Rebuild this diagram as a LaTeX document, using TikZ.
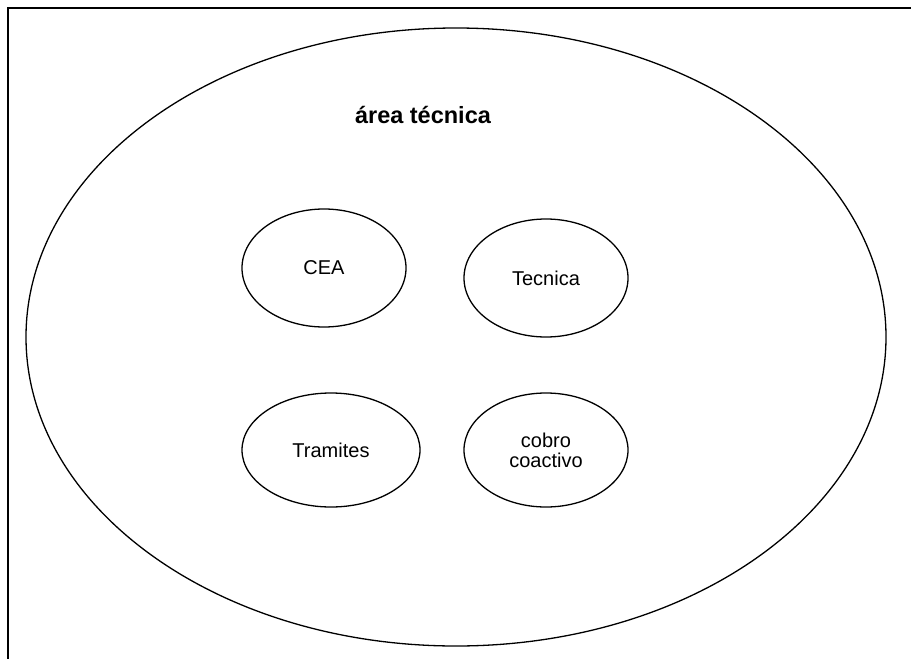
\documentclass[tikz,border=0pt]{standalone}
\usepackage{fontspec}
\setmainfont{Liberation Sans}
\usetikzlibrary{shapes.geometric}
\begin{document}
\begin{tikzpicture}[x=1pt,y=-1pt,
    unit/.style={draw,ellipse,line width=1.3pt,inner sep=0pt,align=center,
      font=\fontsize{20}{20}\selectfont}]
            \useasboundingbox (0,0) rectangle (911,659);
            \draw [line width=2pt] (911,8) -- (8,8) -- (8,659);
            \node [draw,ellipse,line width=1.3pt,minimum width=860,minimum height=618] (area) at (456,337) {};
            \node [font=\bfseries\fontsize{23.5}{26}\selectfont] (title) at (423,115) {área técnica};
            \node [unit,minimum width=164,minimum height=118] (cea) at (324,268) {CEA};
            \node [unit,minimum width=164,minimum height=118] (tecnica) at (546,278) {Tecnica};
            \node [unit,minimum width=178,minimum height=114] (tramites) at (331,450) {Tramites};
            \node [unit,minimum width=164,minimum height=114] (cobro) at (546,450) {cobro\\coactivo};
        \end{tikzpicture}
\end{document}
